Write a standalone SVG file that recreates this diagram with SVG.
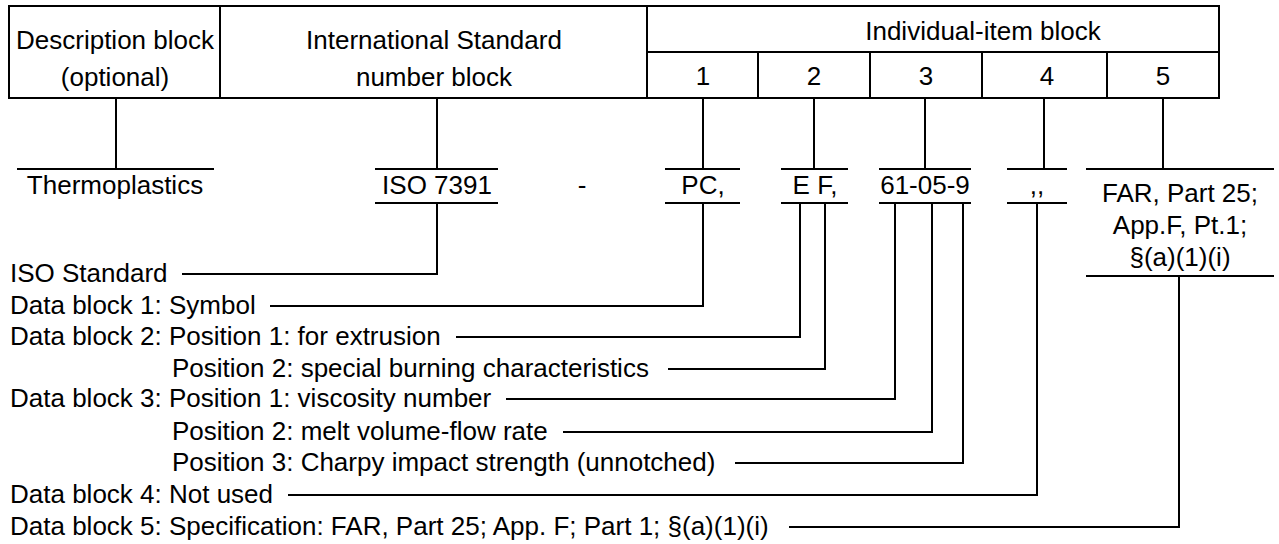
<svg xmlns="http://www.w3.org/2000/svg" width="1279" height="544" viewBox="0 0 1279 544">
<style>
  text { font-family: "Liberation Sans", Arial, sans-serif; font-size: 26px; fill: #000; }
  .c { text-anchor: middle; }
  .ln { fill: none; stroke: #000; stroke-width: 2; }
</style>
<rect x="0" y="0" width="1279" height="544" fill="#fff"/>

<g id="header">
  <rect class="ln" x="9" y="6" width="1210" height="92"/>
  <path class="ln" d="M220,6 V98 M647,6 V98 M647,52 H1219 M758,52 V98 M870,52 V98 M982,52 V98 M1107,52 V98"/>
  <text class="c" x="115" y="49">Description block</text>
  <text class="c" x="115" y="86">(optional)</text>
  <text class="c" x="434" y="49">International Standard</text>
  <text class="c" x="434" y="86">number block</text>
  <text class="c" x="983" y="40">Individual-item block</text>
  <text class="c" x="703" y="85">1</text>
  <text class="c" x="814" y="85">2</text>
  <text class="c" x="926" y="85">3</text>
  <text class="c" x="1047" y="85">4</text>
  <text class="c" x="1163" y="85">5</text>
</g>

<g id="node-thermoplastics">
  <path class="ln" d="M17,169 H214"/>
  <text class="c" x="115" y="194">Thermoplastics</text>
</g>
<g id="node-iso">
  <path class="ln" d="M375,169 H498 M375,203 H498"/>
  <text class="c" x="437" y="194">ISO 7391</text>
</g>
<g id="node-dash">
  <text class="c" x="582" y="194">-</text>
</g>
<g id="node-pc">
  <path class="ln" d="M665,169 H740 M665,203 H740"/>
  <text class="c" x="703" y="194">PC,</text>
</g>
<g id="node-ef">
  <path class="ln" d="M781,169 H848 M781,203 H848"/>
  <text class="c" x="815" y="194">E F,</text>
</g>
<g id="node-61">
  <path class="ln" d="M879,169 H971 M879,203 H971"/>
  <text class="c" x="925" y="194">61-05-9</text>
</g>
<g id="node-4">
  <path class="ln" d="M1007,169 H1067 M1007,203 H1067"/>
  <text class="c" x="1037" y="194">,,</text>
</g>
<g id="node-far">
  <path class="ln" d="M1086,169 H1274 M1086,276 H1274"/>
  <text class="c" x="1180" y="202">FAR, Part 25;</text>
  <text class="c" x="1180" y="234">App.F, Pt.1;</text>
  <text class="c" x="1180" y="266">§(a)(1)(i)</text>
</g>

<g id="labels">
  <text x="10" y="282">ISO Standard</text>
  <text x="10" y="314">Data block 1: Symbol</text>
  <text x="10" y="345">Data block 2: Position 1: for extrusion</text>
  <text x="172" y="377">Position 2: special burning characteristics</text>
  <text x="10" y="407">Data block 3: Position 1: viscosity number</text>
  <text x="172" y="440">Position 2: melt volume-flow rate</text>
  <text x="172" y="471">Position 3: Charpy impact strength (unnotched)</text>
  <text x="10" y="503">Data block 4: Not used</text>
  <text x="10" y="535">Data block 5: Specification: FAR, Part 25; App. F; Part 1; §(a)(1)(i)</text>
</g>

<g id="connectors">
  <path class="ln" d="M116,98 V169 M437,98 V169 M703,98 V169 M814,98 V169 M925,98 V169 M1044,98 V169 M1163,98 V169"/>
  <path class="ln" d="M182,274 H437 V203"/>
  <path class="ln" d="M270,306 H703 V203"/>
  <path class="ln" d="M456,337 H800 V203"/>
  <path class="ln" d="M668,369 H825 V203"/>
  <path class="ln" d="M506,399 H895 V203"/>
  <path class="ln" d="M563,432 H932 V203"/>
  <path class="ln" d="M735,463 H963 V203"/>
  <path class="ln" d="M288,495 H1037 V203"/>
  <path class="ln" d="M789,527 H1179 V276"/>
</g>
</svg>
